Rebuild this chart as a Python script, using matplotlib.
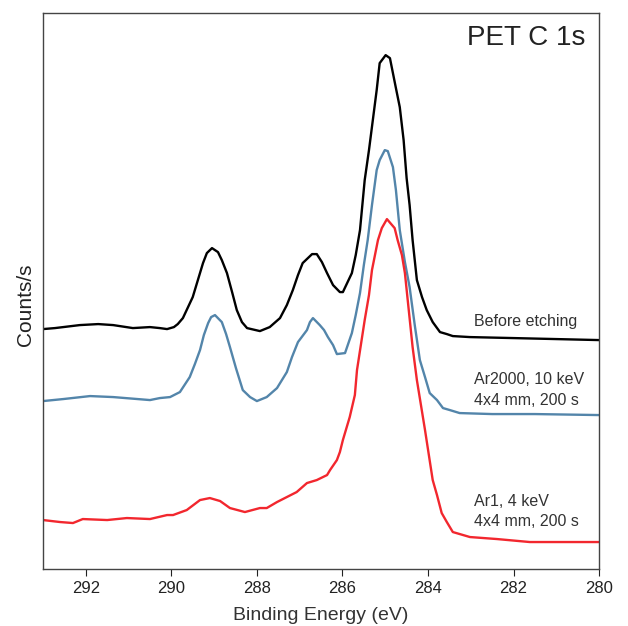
import matplotlib
matplotlib.use("Agg")
import matplotlib.pyplot as plt
import numpy as np

plt.rcParams['font.family'] = ['Liberation Sans', 'DejaVu Sans']

# spectre avant decapage
E_before = [293.00, 292.72, 292.14, 291.71, 291.36, 290.90, 290.50, 290.27, 290.10, 289.94,
            289.85, 289.73, 289.50, 289.38, 289.26, 289.17, 289.05, 288.91, 288.82, 288.70,
            288.58, 288.47, 288.35, 288.23, 287.93, 287.70, 287.46, 287.30, 287.16, 287.04,
            286.93, 286.71, 286.60, 286.48, 286.36, 286.22, 286.06, 285.99, 285.78, 285.69,
            285.59, 285.48, 285.38, 285.29, 285.20, 285.13, 284.99, 284.89, 284.82, 284.75,
            284.66, 284.57, 284.50, 284.43, 284.36, 284.26, 284.14, 284.03, 283.89, 283.72,
            283.56, 283.42, 283.02, 282.00, 281.00, 280.00]
C_before = [240, 241, 244, 245, 244, 241, 242, 241, 240, 242,
            245, 251, 272, 289, 306, 316, 321, 317, 309, 296,
            277, 259, 247, 241, 238, 242, 251, 264, 279, 294,
            306, 315, 315, 307, 296, 284, 277, 277, 296, 314,
            339, 389, 419, 449, 479, 506, 514, 511, 496, 481,
            462, 429, 391, 364, 329, 289, 272, 259, 247, 237,
            235, 233, 232, 231, 230, 229]

# Ar2000, 10 keV
E_gcib = [293.00, 292.53, 291.90, 291.36, 290.50, 290.27, 290.03, 289.80, 289.57, 289.45,
          289.33, 289.24, 289.14, 289.07, 288.98, 288.82, 288.72, 288.63, 288.49, 288.33,
          288.16, 288.00, 287.77, 287.53, 287.30, 287.18, 287.04, 286.83, 286.76, 286.69,
          286.53, 286.43, 286.34, 286.22, 286.13, 285.94, 285.78, 285.69, 285.59, 285.50,
          285.41, 285.31, 285.20, 285.13, 285.01, 284.94, 284.82, 284.75, 284.66, 284.54,
          284.43, 284.31, 284.19, 284.07, 283.96, 283.79, 283.65, 283.49, 283.26, 282.50,
          281.50, 280.00]
C_gcib = [168, 170, 173, 172, 169, 171, 172, 177, 192, 205,
          219, 234, 246, 252, 254, 247, 235, 222, 201, 179,
          172, 168, 172, 181, 197, 212, 227, 239, 247, 251,
          244, 239, 232, 224, 215, 216, 236, 254, 276, 304,
          329, 364, 399, 409, 419, 418, 402, 379, 339, 307,
          282, 244, 209, 192, 176, 169, 161, 159, 156, 155,
          155, 154]

# Ar1, 4 keV
E_mono = [293.00, 292.60, 292.30, 292.07, 291.50, 291.04, 290.50, 290.10, 289.96, 289.64,
          289.33, 289.10, 288.86, 288.63, 288.28, 287.93, 287.77, 287.53, 287.30, 287.07,
          286.83, 286.60, 286.36, 286.29, 286.13, 286.06, 285.99, 285.83, 285.71, 285.66,
          285.57, 285.48, 285.38, 285.31, 285.24, 285.17, 285.08, 284.96, 284.78, 284.71,
          284.61, 284.54, 284.45, 284.36, 284.26, 284.07, 283.98, 283.89, 283.79, 283.68,
          283.56, 283.42, 283.26, 283.02, 282.39, 281.62, 280.00]
C_mono = [49, 47, 46, 50, 49, 51, 50, 54, 54, 59,
          69, 71, 68, 61, 57, 61, 61, 67, 72, 77,
          86, 89, 94, 99, 109, 117, 129, 152, 174, 199,
          224, 249, 274, 299, 314, 329, 341, 350, 341, 329,
          314, 296, 259, 222, 189, 139, 114, 89, 74, 56,
          47, 37, 35, 32, 30, 27, 27]

fig = plt.figure(figsize=(6.28, 6.26), dpi=100)
ax = fig.add_axes([0.0685, 0.091, 0.8855, 0.888])

ax.plot(E_before, C_before, color='black', lw=1.7)
ax.plot(E_gcib, C_gcib, color='#5385aa', lw=1.7)
ax.plot(E_mono, C_mono, color='#f2272e', lw=1.7)

ax.set_xlim(293, 280)
ax.set_ylim(0, 556)
ax.set_xticks(np.arange(292, 279, -2))
ax.set_yticks([])
ax.tick_params(axis='x', direction='out', length=5, labelsize=12, colors='#222222')
for s in ax.spines.values():
    s.set_color('#444444')
    s.set_linewidth(1.0)

ax.set_xlabel("Binding Energy (eV)", fontsize=14, color='#333333', labelpad=8)
ax.set_ylabel("Counts/s", fontsize=15, color='#222222')
ax.yaxis.set_label_coords(-0.015, 0.475)

ax.text(0.975, 0.955, "PET C 1s", transform=ax.transAxes, ha='right', va='center',
        fontsize=20, color='#222222')
tc = '#333333'
ax.text(282.93, 0.446, "Before etching", transform=ax.get_xaxis_transform(),
        ha='left', va='center', fontsize=11.5, color=tc)
ax.text(282.93, 0.322, "Ar2000, 10 keV\n4x4 mm, 200 s", transform=ax.get_xaxis_transform(),
        ha='left', va='center', fontsize=11.5, color=tc, linespacing=1.45)
ax.text(282.93, 0.104, "Ar1, 4 keV\n4x4 mm, 200 s", transform=ax.get_xaxis_transform(),
        ha='left', va='center', fontsize=11.5, color=tc, linespacing=1.45)

plt.savefig("out.png", dpi=100)
